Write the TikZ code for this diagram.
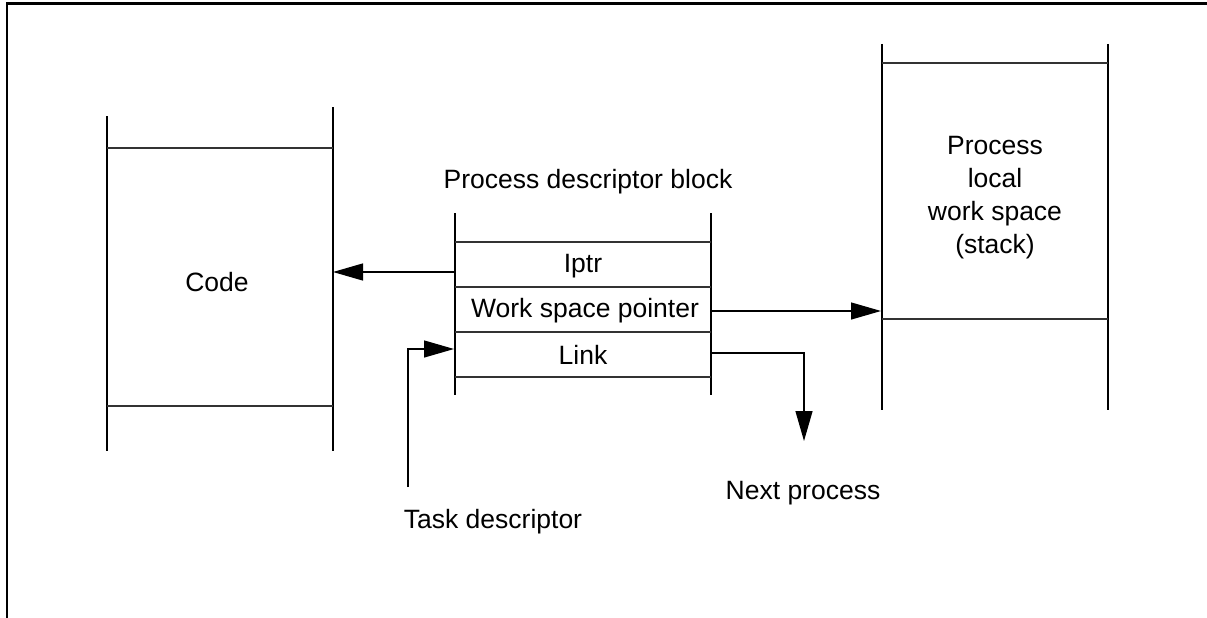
\documentclass[tikz,border=0pt]{standalone}
\usepackage{fontspec}
\setmainfont{Liberation Sans}
\usetikzlibrary{arrows.meta}

\begin{document}
\begin{tikzpicture}[x=1pt,y=-1pt,>={Triangle[length=30pt,width=17pt]},
  side/.style={line width=2pt},
  rule/.style={line width=1.3pt,black!80},
  link/.style={line width=1.3pt,->},
  lbl/.style={font=\fontsize{26.5}{33}\selectfont,inner sep=0pt,align=center},
  lblb/.style={lbl,anchor=base}]
\useasboundingbox (0,0) rectangle (1207,618);
% frame
\draw[line width=2.6pt] (7,618) -- (7,3.5) -- (1207,3.5);

% code
\draw[side] (107,116) -- (107,451);
\draw[side] (333,107) -- (333,451);
\draw[rule] (107,148) -- (333,148);
\draw[rule] (107,406) -- (333,406);
\node[lblb] (code) at (217,291) {Code};
\coordinate (codeR) at (333,272);

% descriptor block
\node[lblb] (pdb) at (588,188) {Process descriptor block};
\draw[side] (455,213) -- (455,395);
\draw[side] (711,213) -- (711,395);
\foreach \y in {242,287,332,377}
  \draw[rule] (455,\y) -- (711,\y);
\node[lblb] (iptr) at (583,272) {Iptr};
\node[lblb] (wsp) at (585,317) {Work space pointer};
\node[lblb] (lnk) at (583,364) {Link};

% stack
\draw[side] (882,44) -- (882,410);
\draw[side] (1108,44) -- (1108,410);
\draw[rule] (882,63) -- (1108,63);
\draw[rule] (882,319) -- (1108,319);
\node[lbl] (stack) at (995,198) {Process\\local\\work space\\(stack)};
\coordinate (stackL) at (881,311);

% connectors
\node[lbl] (next) at (803,493) {Next process};
\node[lbl] (task) at (493,522) {Task descriptor};
\coordinate (nextEnd) at (804,441);
\coordinate (taskStart) at (408,487);
\draw[link] (455,272) -- (codeR);
\draw[link] (711,311) -- (stackL);
\draw[link] (711,353) -| (nextEnd);
\draw[link] (taskStart) |- (454,349);
\end{tikzpicture}
\end{document}
